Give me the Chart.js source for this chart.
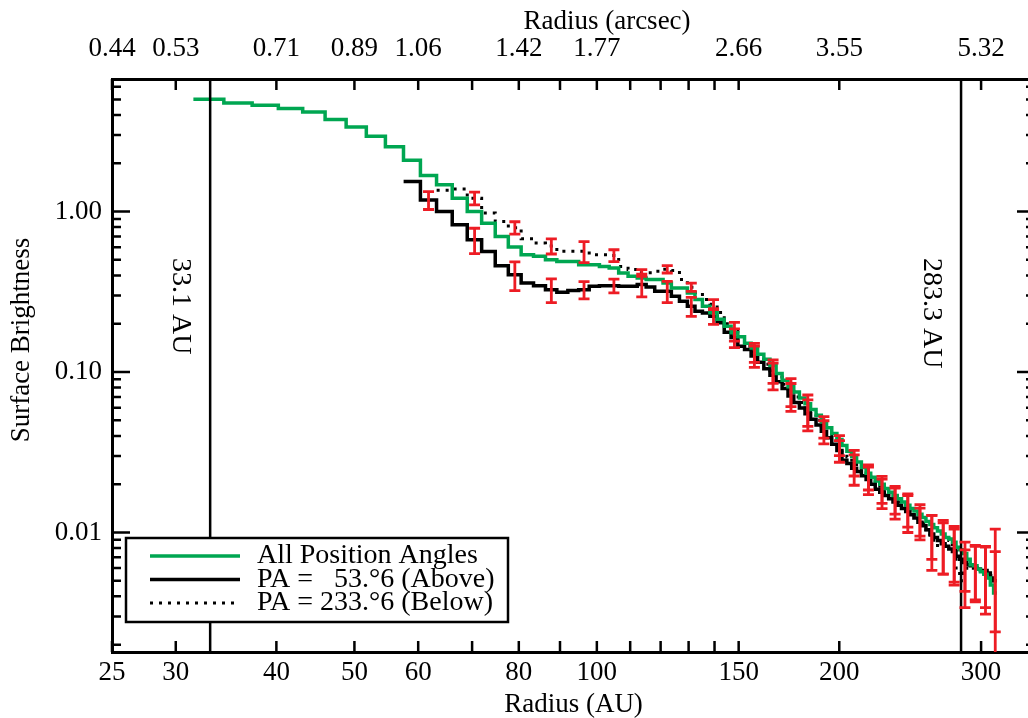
<!DOCTYPE html>
<html lang="en">
<head>
<meta charset="UTF-8" />
<title>Surface Brightness Profile</title>
<script src="https://cdn.jsdelivr.net/npm/chart.js"></script>
<style>
  html, body { margin: 0; padding: 0; background: #fff; overflow: hidden; }
  #wrap { width: 1028px; height: 718px; overflow: hidden; }
  canvas { display: block; }
</style>
</head>
<body>
<div id="wrap"><canvas id="sbChart" width="1040" height="718"></canvas></div>
<script>
// bin centres (AU)
const radiusAU = [33.0, 35.9, 38.8, 41.7, 44.6, 47.4, 50.3, 53.2, 56.1, 59.0,
  61.8, 64.7, 67.6, 70.5, 73.4, 76.2, 79.1, 82.0, 84.9, 87.8,
  90.6, 93.5, 96.4, 99.3, 102.2, 105.0, 107.9, 110.8, 113.7, 116.6,
  119.4, 122.3, 125.2, 128.1, 131.0, 133.8, 136.7, 139.6, 142.5, 145.4,
  148.2, 151.1, 154.0, 156.9, 159.8, 162.6, 165.5, 168.4, 171.3, 174.2,
  177.0, 179.9, 182.8, 185.7, 188.6, 191.4, 194.3, 197.2, 200.1, 203.0,
  205.8, 208.7, 211.6, 214.5, 217.4, 220.2, 223.1, 226.0, 228.9, 231.8,
  234.6, 237.5, 240.4, 243.3, 246.2, 249.0, 251.9, 254.8, 257.7, 260.6,
  263.4, 266.3, 269.2, 272.1, 275.0, 277.8, 280.7, 283.6, 286.5, 289.4,
  292.2, 295.1, 298.0, 300.9, 303.8, 306.6, 309.5, 312.4];

const allPA = [5.01, 4.75, 4.60, 4.39, 4.18, 3.75, 3.37, 2.95, 2.53, 2.09,
  1.68, 1.47, 1.21, 1.00, 0.847, 0.700, 0.601, 0.538, 0.526, 0.501,
  0.489, 0.489, 0.466, 0.466, 0.455, 0.445, 0.414, 0.395, 0.386, 0.377,
  0.377, 0.359, 0.334, 0.334, 0.311, 0.283, 0.257, 0.234, 0.213, 0.193,
  0.176, 0.166, 0.151, 0.141, 0.129, 0.120, 0.110, 0.098, 0.089, 0.081,
  0.075, 0.069, 0.0635, 0.0585, 0.0537, 0.049, 0.045, 0.0414, 0.038, 0.0349,
  0.0321, 0.0298, 0.0275, 0.0254, 0.0234, 0.0221, 0.0209, 0.0200, 0.0188, 0.0178,
  0.0170, 0.0162, 0.0155, 0.0148, 0.0141, 0.0136, 0.0130, 0.0124, 0.0117, 0.0112,
  0.0107, 0.0102, 0.0098, 0.0093, 0.0091, 0.0087, 0.0081, 0.0078, 0.0074, 0.0068,
  0.0063, 0.0062, 0.0059, 0.0057, 0.0055, 0.0052, 0.0047, 0.0042];

// PA = 53.6 (above)
const paAbove = [null, null, null, null, null, null, null, null, null, 1.54,
  1.18, 1.00, 0.827, 0.667, 0.564, 0.460, 0.404, 0.359, 0.345, 0.326,
  0.314, 0.322, 0.326, 0.342, 0.345, 0.345, 0.342, 0.342, 0.351, 0.339,
  0.319, 0.319, 0.297, 0.276, 0.257, 0.239, 0.233, 0.223, 0.203, 0.177,
  0.164, 0.145, 0.138, 0.126, 0.115, 0.105, 0.0955, 0.087, 0.079, 0.0708,
  0.0646, 0.0596, 0.055, 0.0507, 0.0468, 0.0427, 0.0389, 0.0355, 0.0324, 0.0282,
  0.0269, 0.0251, 0.0240, 0.0226, 0.0214, 0.0200, 0.0186, 0.0178, 0.0170, 0.0162,
  0.0155, 0.0148, 0.0141, 0.0135, 0.0129, 0.0123, 0.0116, 0.0110, 0.0104, 0.0098,
  0.0093, 0.0089, 0.0085, 0.0082, 0.0079, 0.0076, 0.0071, 0.0068, 0.0065, 0.0063,
  0.0062, 0.0060, 0.0059, 0.0058, 0.0058, 0.0056, 0.0052, 0.0050];

// PA = 233.6 (below)
const paBelow = [null, null, null, null, null, null, null, null, null, null,
  null, 1.36, 1.38, 1.21, 0.98, 0.867, 0.794, 0.677, 0.636, 0.61,
  0.565, 0.565, 0.565, 0.538, 0.538, 0.533, 0.454, 0.435, 0.415, 0.416,
  0.424, 0.437, 0.430, 0.377, 0.338, 0.312, 0.283, 0.264, 0.235, 0.200,
  0.180, 0.158, 0.145, 0.133, 0.123, 0.112, 0.102, 0.093, 0.084, 0.0759,
  0.070, 0.0646, 0.0589, 0.0543, 0.050, 0.0457, 0.0417, 0.0385, 0.0351, 0.0316,
  0.0295, 0.0275, 0.0257, 0.0240, 0.0224, 0.0211, 0.0200, 0.0188, 0.0178, 0.0170,
  0.0162, 0.0155, 0.0148, 0.0141, 0.0135, 0.0129, 0.0122, 0.0114, 0.0104, 0.0093,
  0.0085, 0.0083, 0.0087, 0.0091, 0.0089, 0.0079, 0.0060, 0.0050, 0.0056, 0.0060,
  0.0062, 0.0060, 0.0059, 0.0058, 0.0056, 0.0055, 0.0054, 0.0050];

// error bars: bin index, 1-sigma for each PA
const errBins = [10, 13, 16, 19, 22, 25, 28, 31, 34, 37, 40, 43, 46, 49, 52,
  55, 58, 61, 64, 67, 70, 73, 76, 79, 82, 85, 88, 91, 94, 97];
const errAbove = [0.15, 0.12, 0.082, 0.055, 0.040, 0.034, 0.057, 0.048, 0.035, 0.025,
  0.022, 0.019, 0.018, 0.014, 0.012, 0.007, 0.005, 0.0054, 0.0042, 0.0037,
  0.0034, 0.0035, 0.0026, 0.0030, 0.0030, 0.0029, 0.0022, 0.0022, 0.0024, 0.0026];
const errBelow = [null, 0.11, 0.07, 0.066, 0.085, 0.045, 0.020, 0.023, 0.020, 0.019,
  0.024, 0.018, 0.017, 0.015, 0.013, 0.007, 0.005, 0.005, 0.004, 0.0036,
  0.0032, 0.0033, 0.0027, 0.0035, 0.0032, 0.0030, 0.0022, 0.0023, 0.0025, 0.0055];

const markRadii = [33.1, 283.3];
const markLabels = ['33.1 AU', '283.3 AU'];

const xTickValues = [25, 30, 40, 50, 60, 70, 80, 90, 100, 110, 120, 130, 140, 150, 200, 300];
const xLabelValues = [25, 30, 40, 50, 60, 80, 100, 150, 200, 300];
const arcsecLabels = ['0.44', '0.53', '0.71', '0.89', '1.06', '1.42', '1.77', '2.66', '3.55', '5.32'];
const yMajor = [0.01, 0.1, 1];
const yMajorLabels = ['0.01', '0.10', '1.00'];

const xMin = 25, xMax = 350, yMin = 0.0018, yMax = 6.7;
const GREEN = '#00a651', RED = '#ed1c24';
const SERIF = "'Liberation Serif', 'DejaVu Serif', serif";

// y ticks: decades plus 2..9 minors
const yTicks = [];
[0.001, 0.01, 0.1, 1].forEach(d => {
  for (let m = 1; m <= 9; m++) {
    const v = +(m * d).toPrecision(3);
    if (v >= yMin && v <= yMax) yTicks.push({ value: v, major: m === 1 });
  }
});

// histogram steps: centres plus the outer half-bin edges
const halfBin = (radiusAU[1] - radiusAU[0]) / 2;
function stepData(values) {
  const pts = [];
  values.forEach((v, i) => { if (v !== null) pts.push({ x: radiusAU[i], y: v }); });
  const first = pts[0], last = pts[pts.length - 1];
  return [{ x: first.x - halfBin, y: first.y }, ...pts, { x: last.x + halfBin, y: last.y }];
}

const tickMarks = {
  id: 'tickMarks',
  beforeDatasetsDraw(chart) {
    const { ctx, chartArea: a, scales } = chart;
    ctx.save();
    ctx.strokeStyle = '#000';
    ctx.lineWidth = 2.5;
    ctx.beginPath();
    xTickValues.forEach(v => {
      const px = scales.x.getPixelForValue(v);
      ctx.moveTo(px, a.bottom); ctx.lineTo(px, a.bottom - 11);
      ctx.moveTo(px, a.top); ctx.lineTo(px, a.top + 11);
    });
    yTicks.forEach(t => {
      const py = scales.y.getPixelForValue(t.value);
      const len = t.major ? 18 : 9;
      ctx.moveTo(a.left, py); ctx.lineTo(a.left + len, py);
      ctx.moveTo(a.right, py); ctx.lineTo(a.right - len, py);
    });
    ctx.stroke();
    // right axis
    ctx.lineWidth = 3;
    ctx.beginPath();
    ctx.moveTo(a.right, a.top); ctx.lineTo(a.right, a.bottom);
    ctx.stroke();
    ctx.restore();
  }
};

const markers = {
  id: 'markers',
  afterDatasetsDraw(chart) {
    const { ctx, chartArea: a, scales } = chart;
    ctx.save();
    ctx.strokeStyle = '#000';
    ctx.lineWidth = 2.5;
    ctx.fillStyle = '#000';
    ctx.font = '28px ' + SERIF;
    ctx.textAlign = 'left';
    ctx.textBaseline = 'middle';
    markRadii.forEach((r, i) => {
      const px = scales.x.getPixelForValue(r);
      ctx.beginPath();
      ctx.moveTo(px, a.top); ctx.lineTo(px, a.bottom);
      ctx.stroke();
      ctx.save();
      ctx.translate(px - 30, 258);
      ctx.rotate(Math.PI / 2);
      ctx.fillText(markLabels[i], 0, 0);
      ctx.restore();
    });
    ctx.restore();
  }
};

const errorBars = {
  id: 'errorBars',
  afterDatasetsDraw(chart) {
    const { ctx, chartArea: a, scales: { x, y } } = chart;
    ctx.save();
    ctx.beginPath();
    ctx.rect(a.left, a.top, a.right - a.left, a.bottom - a.top);
    ctx.clip();
    ctx.strokeStyle = RED;
    ctx.lineWidth = 2.8;
    const drawBar = (r, v, e) => {
      const px = x.getPixelForValue(r);
      const top = y.getPixelForValue(v + e);
      const lo = v - e;
      const bottom = lo > 0 ? y.getPixelForValue(lo) : a.bottom + 5;
      ctx.beginPath();
      ctx.moveTo(px, top); ctx.lineTo(px, bottom);
      ctx.moveTo(px - 5.5, top); ctx.lineTo(px + 5.5, top);
      if (lo > 0) { ctx.moveTo(px - 5.5, bottom); ctx.lineTo(px + 5.5, bottom); }
      ctx.stroke();
    };
    errBins.forEach((b, i) => {
      if (errAbove[i] !== null) drawBar(radiusAU[b], paAbove[b], errAbove[i]);
      if (errBelow[i] !== null) drawBar(radiusAU[b], paBelow[b], errBelow[i]);
    });
    ctx.restore();
  }
};

const legendBox = {
  id: 'legendBox',
  afterDraw(chart) {
    const { ctx, chartArea: a } = chart;
    const bx = a.left + 14, by = a.bottom - 114, bw = 382, bh = 84;
    ctx.save();
    ctx.fillStyle = '#fff';
    ctx.fillRect(bx, by, bw, bh);
    ctx.strokeStyle = '#000';
    ctx.lineWidth = 2.5;
    ctx.strokeRect(bx, by, bw, bh);
    ctx.font = '28px ' + SERIF;
    ctx.textBaseline = 'middle';
    ctx.textAlign = 'left';
    chart.data.datasets.forEach((ds, i) => {
      const ry = by + 18 + i * 23.5;
      ctx.beginPath();
      ctx.strokeStyle = ds.borderColor;
      ctx.lineWidth = ds.borderWidth;
      ctx.setLineDash(ds.borderDash || []);
      ctx.moveTo(bx + 24, ry); ctx.lineTo(bx + 114, ry);
      ctx.stroke();
      ctx.setLineDash([]);
      ctx.fillStyle = '#000';
      ctx.fillText(ds.label, bx + 131, ry);
    });
    ctx.restore();
  }
};

// axis titles that sit off-centre in the original
const axisTitles = {
  id: 'axisTitles',
  afterDraw(chart) {
    const { ctx } = chart;
    ctx.save();
    ctx.fillStyle = '#000';
    ctx.font = '27px ' + SERIF;
    ctx.textAlign = 'center';
    ctx.textBaseline = 'middle';
    ctx.fillText('Radius (arcsec)', 607, 22);
    ctx.translate(22, 340);
    ctx.rotate(-Math.PI / 2);
    ctx.fillText('Surface Brightness', 0, 0);
    ctx.restore();
  }
};

const tickFont = { family: SERIF, size: 27, lineHeight: 1 };
const titleFont = { family: SERIF, size: 27, lineHeight: 1 };

new Chart(document.getElementById('sbChart'), {
  type: 'line',
  data: {
    datasets: [{
      label: 'All Position Angles',
      data: stepData(allPA),
      borderColor: GREEN,
      borderWidth: 3.5,
      stepped: 'middle',
      order: 0
    }, {
      label: 'PA =   53.\u00b06 (Above)',
      data: stepData(paAbove),
      borderColor: '#000',
      borderWidth: 3.5,
      stepped: 'middle',
      order: 2
    }, {
      label: 'PA = 233.\u00b06 (Below)',
      data: stepData(paBelow),
      borderColor: '#000',
      borderWidth: 3,
      borderDash: [3, 6],
      borderCapStyle: 'butt',
      stepped: 'middle',
      order: 1
    }]
  },
  options: {
    responsive: false,
    animation: false,
    parsing: false,
    layout: { padding: { left: 0, right: 5, top: 0, bottom: 0 } },
    elements: { point: { radius: 0 }, line: { borderJoinStyle: 'miter' } },
    plugins: { legend: { display: false }, tooltip: { enabled: false } },
    scales: {
      x: {
        type: 'logarithmic', position: 'bottom', min: xMin, max: xMax,
        afterFit: s => { s.height = 66; },
        afterBuildTicks: s => { s.ticks = xTickValues.map(v => ({ value: v })); },
        grid: { display: false, drawTicks: false },
        border: { display: true, width: 3, color: '#000' },
        ticks: {
          autoSkip: false, maxRotation: 0, padding: 7, color: '#000', font: tickFont,
          callback: v => xLabelValues.includes(v) ? String(v) : ''
        },
        title: { display: true, text: 'Radius (AU)', color: '#000', font: titleFont, padding: { top: 0, bottom: 0 } }
      },
      x2: {
        type: 'logarithmic', position: 'top', min: xMin, max: xMax,
        afterFit: s => { s.height = 79; },
        afterBuildTicks: s => { s.ticks = xTickValues.map(v => ({ value: v })); },
        grid: { display: false, drawTicks: false },
        border: { display: true, width: 3, color: '#000' },
        ticks: {
          autoSkip: false, maxRotation: 0, padding: 17, color: '#000', font: tickFont,
          callback: v => { const k = xLabelValues.indexOf(v); return k >= 0 ? arcsecLabels[k] : ''; }
        }
      },
      y: {
        type: 'logarithmic', position: 'left', min: yMin, max: yMax,
        afterFit: s => { s.width = 112; },
        afterBuildTicks: s => { s.ticks = yTicks.map(t => ({ value: t.value })); },
        grid: { display: false, drawTicks: false },
        border: { display: true, width: 3, color: '#000' },
        ticks: {
          autoSkip: false, padding: 10, color: '#000', font: tickFont,
          callback: v => { const k = yMajor.indexOf(v); return k >= 0 ? yMajorLabels[k] : ''; }
        }
      }
    }
  },
  plugins: [tickMarks, markers, errorBars, legendBox, axisTitles]
});
</script>
</body>
</html>
